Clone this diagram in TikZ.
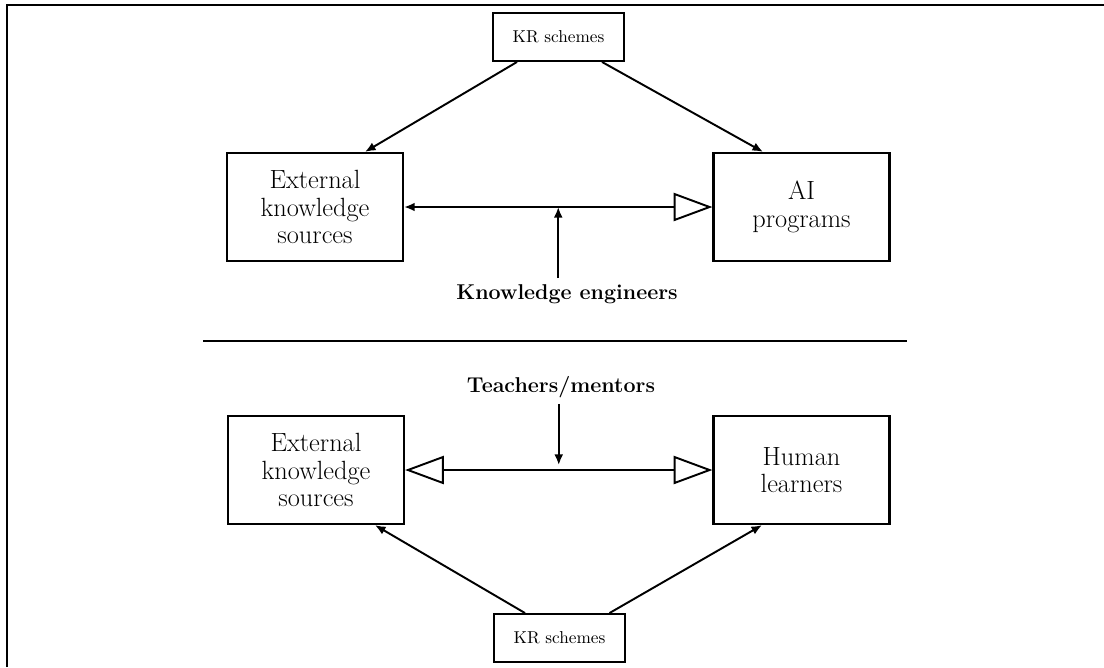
\documentclass[tikz,border=0pt]{standalone}
\usetikzlibrary{arrows.meta,calc}

\begin{document}
\begin{tikzpicture}[x=0.02cm, y=-0.02cm,
    bigbox/.style={draw, line width=1.3pt, minimum width=3.52cm, minimum height=2.16cm,
        align=center, font=\fontsize{15}{15.8}\selectfont},
    krbox/.style={draw, line width=1.1pt, minimum width=2.62cm, minimum height=0.96cm,
        font=\fontsize{9.8}{11}\selectfont},
    actor/.style={font=\fontsize{12.2}{14}\selectfont\bfseries},
    link/.style={line width=1.1pt, -{Latex[length=6pt,width=5pt]}},
    opentip/.tip={Triangle[open, length=22pt, width=16pt]}]

    % Frame and page size
    \useasboundingbox (0,0) rectangle (1104,667);
    \draw[line width=1.2pt] (7,667) -- (7,5) -- (1104,5);

    % Upper part
    \node[krbox] (krtop) at (558.5,37) {KR schemes};
    \node[bigbox] (ext1) at (315,207) {External\\knowledge\\sources};
    \node[bigbox] (ai) at (801.5,207) {AI\\programs};
    \node[actor] (ke) at (567,294) {Knowledge engineers};
    \coordinate (mid1) at ($(ext1.east)!0.5!(ai.west)$);

    \draw[link] ([xshift=-0.83cm]krtop.south) -- ([xshift=1cm]ext1.north);
    \draw[link] ([xshift=0.87cm]krtop.south) -- ([xshift=-0.77cm]ai.north);
    \draw[line width=1.1pt, {Latex[length=6pt,width=5pt]}-{opentip}] (ext1.east) -- (ai.west);
    \draw[link] (ke.north -| mid1) -- (mid1);

    % Separator
    \draw[line width=1.6pt] (203,341) -- (907,341);

    % Lower part
    \node[actor] (tm) at (561,387) {Teachers/mentors};
    \node[bigbox] (ext2) at (316,470) {External\\knowledge\\sources};
    \node[bigbox] (hum) at (801.5,470) {Human\\learners};
    \node[krbox] (krbot) at (559.5,638) {KR schemes};
    \coordinate (mid2) at ($(ext2.east)!0.5!(hum.west)$);

    \draw[line width=1.1pt, {opentip}-{opentip}] (ext2.east) -- (hum.west);
    \draw[link] (tm.south -| mid2) -- ([yshift=0.1cm]mid2);
    \draw[link] ([xshift=-0.69cm]krbot.north) -- ([xshift=1.18cm]ext2.south);
    \draw[link] ([xshift=1cm]krbot.north) -- ([xshift=-0.79cm]hum.south);

\end{tikzpicture}
\end{document}
